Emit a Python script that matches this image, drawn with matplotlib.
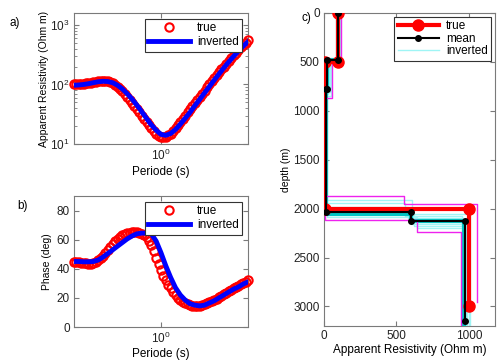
import numpy as np
import matplotlib
matplotlib.use('Agg')
import matplotlib.pyplot as plt
from matplotlib.ticker import FixedLocator, NullLocator, LogLocator, NullFormatter

# ---------------- data ----------------
# dense sampling of the "true" response (red circles)
log_period_true = [-0.900, -0.875, -0.850, -0.825, -0.800, -0.775, -0.750, -0.725, -0.700, -0.675,
                   -0.650, -0.625, -0.600, -0.575, -0.550, -0.525, -0.500, -0.475, -0.450, -0.425,
                   -0.400, -0.375, -0.350, -0.325, -0.300, -0.275, -0.250, -0.225, -0.200, -0.175,
                   -0.150, -0.125, -0.100, -0.075, -0.050, -0.025, 0.000, 0.025, 0.050, 0.075,
                   0.100, 0.125, 0.150, 0.175, 0.200, 0.225, 0.250, 0.275, 0.300, 0.325,
                   0.350, 0.375, 0.400, 0.425, 0.450, 0.475, 0.500, 0.525, 0.550, 0.575,
                   0.600, 0.625, 0.650, 0.675, 0.700, 0.725, 0.750, 0.775, 0.800, 0.825,
                   0.850, 0.875, 0.900]
rho_true = [100, 100.5, 101, 102, 103, 104.5, 106, 107.5, 109, 111,
            113, 114.5, 115, 114.5, 113, 109.5, 105, 99, 92, 84.5,
            77, 69, 62, 55, 49, 43, 38, 34, 30, 26,
            23, 20.5, 18.5, 16.5, 15, 13.8, 13, 12.9, 13.2, 14,
            15, 16.6, 18.5, 20.8, 23.5, 26.5, 30, 34, 38, 43,
            49, 55, 62, 70, 79, 89, 100, 113, 127, 143,
            160, 179, 200, 224, 250, 279, 310, 344, 380, 420,
            460, 505, 550]
phase_true = [45, 44.8, 44.5, 44.2, 44, 43.7, 43.5, 43.6, 44, 44.8,
              46, 47.4, 49, 51, 53, 55, 57, 58.8, 60.5, 61.8,
              63, 63.8, 64.5, 64.8, 65, 65.1, 65, 64.6, 64, 63,
              61.5, 59, 56, 52, 47.5, 43, 39, 35.3, 32, 29,
              26.5, 24.1, 22, 20.1, 18.5, 17.4, 16.5, 15.7, 15, 14.7,
              14.5, 14.4, 14.5, 15, 15.5, 16.2, 17, 17.7, 18.5, 19.5,
              20.5, 21.5, 22.5, 23.5, 24.5, 25.5, 26.5, 27.5, 28.5, 29.5,
              30.5, 31.2, 32]

# inverted response (blue line)
log_period_inv = [-0.90, -0.85, -0.80, -0.75, -0.70, -0.65, -0.60, -0.55, -0.50, -0.45,
                  -0.40, -0.35, -0.30, -0.25, -0.20, -0.15, -0.10, -0.05, 0.00, 0.05,
                  0.10, 0.15, 0.20, 0.25, 0.30, 0.35, 0.40, 0.45, 0.50, 0.55,
                  0.60, 0.65, 0.70, 0.75, 0.80, 0.85, 0.90]
rho_inv = [97, 98, 100, 103, 107, 111, 113, 112, 107, 97,
           84, 70, 57, 45, 35, 27, 21, 17, 14.5, 14,
           15, 17.5, 21.5, 27, 34, 44, 56, 72, 92, 118,
           150, 190, 238, 295, 362, 440, 520]
phase_inv = [45, 45, 44.8, 44.8, 45, 46, 48, 50.5, 53, 55.5,
             58, 60.5, 62.5, 64, 64.5, 64.5, 64, 59, 51, 42,
             34, 27, 22, 18.5, 16, 15, 14.5, 15, 16.5, 18,
             20, 22, 24, 26, 27.5, 29.5, 31]

# layered models: resistivities, interface depths, plotted bottom depth
true_rho = [100, 10, 1000]
true_depths = [500, 2000]
true_bottom = 3000

mean_rho = [100, 20, 15, 600, 970]
mean_depths = [480, 780, 2030, 2130]
mean_bottom = 3150

inv_rho = [
    [105, 30, 12, 600, 980],
    [95, 20, 10, 580, 960],
    [110, 45, 15, 620, 1000],
    [100, 15, 8, 560, 950],
    [98, 35, 18, 640, 990],
    [108, 25, 12, 590, 975],
    [92, 40, 14, 610, 1010],
    [102, 22, 9, 600, 965],
]
inv_depths = [
    [490, 820, 2020, 2120],
    [470, 780, 1980, 2100],
    [500, 850, 2060, 2180],
    [480, 760, 1940, 2080],
    [495, 800, 2090, 2200],
    [485, 830, 2000, 2140],
    [475, 810, 1910, 2050],
    [490, 790, 2040, 2160],
]
best_rho = [100, 20, 15, 600, 965]
best_depths = [480, 790, 2050, 2130]

bound_rho = [[115, 55, 5, 550, 1055], [92, 5, 5, 640, 945]]
bound_depths = [[500, 870, 1870, 1950], [480, 780, 2120, 2240]]
bound_bottom = [2950, 3200]
inv_bottom = 3200

# ---------------- style ----------------
plt.rcParams['font.family'] = ['Liberation Sans', 'DejaVu Sans']
TICK = 8.5
XLAB = 8.5
YLAB = 7.5
LEG = 8.5
SPINE = '#7a7a7a'

W, H = 497, 363
fig = plt.figure(figsize=(W / 100, H / 100), dpi=100)


def ax_at(l, t, r, b):
    return fig.add_axes([l / W, 1 - b / H, (r - l) / W, (b - t) / H])


def style(ax):
    for s in ax.spines.values():
        s.set_color(SPINE)
        s.set_linewidth(0.8)
    ax.tick_params(which='both', direction='in', top=True, right=True,
                   color=SPINE, labelcolor='#222222', labelsize=TICK, pad=3)


def steps(rho, depths, bottom):
    xs, ys = [], []
    tops = [0] + list(depths)
    bots = list(depths) + [bottom]
    for r, t, b in zip(rho, tops, bots):
        xs += [r, r]
        ys += [t, b]
    return xs, ys


def legend(ax, handles=None, labels=None, pad=0.5, spacing=0.15):
    kw = dict(loc='upper right', fontsize=LEG, fancybox=False, framealpha=1,
              edgecolor='#333333', handlelength=3.5, borderaxespad=pad,
              borderpad=0.3, labelspacing=spacing, handletextpad=0.6)
    if handles is None:
        leg = ax.legend(**kw)
    else:
        leg = ax.legend(handles, labels, **kw)
    leg.get_frame().set_linewidth(0.8)


period_true = [10 ** p for p in log_period_true]
period_inv = [10 ** p for p in log_period_inv]
xlim = (10 ** log_period_true[0], 10 ** log_period_true[-1])

# ---------------- a) ----------------
axa = ax_at(74, 13, 248, 144)
style(axa)
axa.plot(period_true, rho_true, 'o', mfc='none', mec='red', ms=6, mew=1.5,
         label='true', zorder=3, clip_on=False)
axa.plot(period_inv, rho_inv, '-', color='#0000ff', lw=3.5, label='inverted', zorder=4)
axa.set_xscale('log')
axa.set_yscale('log')
axa.set_xlim(*xlim)
axa.set_ylim(10, 10 ** 3.2)
axa.xaxis.set_major_locator(FixedLocator([1]))
axa.xaxis.set_minor_locator(NullLocator())
axa.yaxis.set_major_locator(FixedLocator([10, 100, 1000]))
axa.yaxis.set_minor_locator(LogLocator(subs=np.arange(2, 10)))
axa.yaxis.set_minor_formatter(NullFormatter())
axa.set_xlabel('Periode (s)', fontsize=XLAB, labelpad=2)
axa.set_ylabel('Apparent Resistivity (Ohm m)', fontsize=YLAB, labelpad=1)
legend(axa)

# ---------------- b) ----------------
axb = ax_at(74, 196, 248, 327)
style(axb)
axb.plot(period_true, phase_true, 'o', mfc='none', mec='red', ms=6, mew=1.5,
         label='true', zorder=3, clip_on=False)
axb.plot(period_inv, phase_inv, '-', color='#0000ff', lw=3.5, label='inverted', zorder=4)
axb.set_xscale('log')
axb.set_xlim(*xlim)
axb.set_ylim(0, 90)
axb.xaxis.set_major_locator(FixedLocator([1]))
axb.xaxis.set_minor_locator(NullLocator())
axb.set_yticks([0, 20, 40, 60, 80])
axb.set_xlabel('Periode (s)', fontsize=XLAB, labelpad=1)
axb.set_ylabel('Phase (deg)', fontsize=YLAB, labelpad=3)
legend(axb)

# ---------------- c) ----------------
axc = ax_at(324, 13, 495, 326)
style(axc)
inv_handle = None
for r, d in zip(inv_rho, inv_depths):
    xs, ys = steps(r, d, inv_bottom)
    h, = axc.plot(xs, ys, color='#9ff5f5', lw=1.0, zorder=2)
    if inv_handle is None:
        inv_handle = h
xs, ys = steps(best_rho, best_depths, inv_bottom)
axc.plot(xs, ys, color='#00c4c4', lw=3, zorder=3)
for r, d, b in zip(bound_rho, bound_depths, bound_bottom):
    xs, ys = steps(r, d, b)
    axc.plot(xs, ys, color='#ee22ee', lw=1.0, zorder=4)
xs, ys = steps(true_rho, true_depths, true_bottom)
true_handle, = axc.plot(xs, ys, '-o', color='red', lw=3, ms=8, zorder=5)
xs, ys = steps(mean_rho, mean_depths, mean_bottom)
mean_handle, = axc.plot(xs, ys, '-o', color='black', lw=1.5, ms=4, zorder=6)
axc.set_xlim(0, 1180)
axc.set_ylim(3200, 0)
axc.set_xticks([0, 500, 1000])
axc.set_yticks([0, 500, 1000, 1500, 2000, 2500, 3000])
axc.set_xlabel('Apparent Resistivity (Ohm m)', fontsize=XLAB, labelpad=1)
axc.set_ylabel('depth (m)', fontsize=YLAB, labelpad=2)
legend(axc, [true_handle, mean_handle, inv_handle], ['true', 'mean', 'inverted'],
       pad=0.3, spacing=0.05)

# panel labels
fig.text(10 / W, 1 - 23 / H, 'a)', fontsize=XLAB, va='center')
fig.text(17 / W, 1 - 206 / H, 'b)', fontsize=XLAB, va='center')
fig.text(302 / W, 1 - 18 / H, 'c)', fontsize=XLAB, va='center')

fig.savefig('out.png', dpi=100)
